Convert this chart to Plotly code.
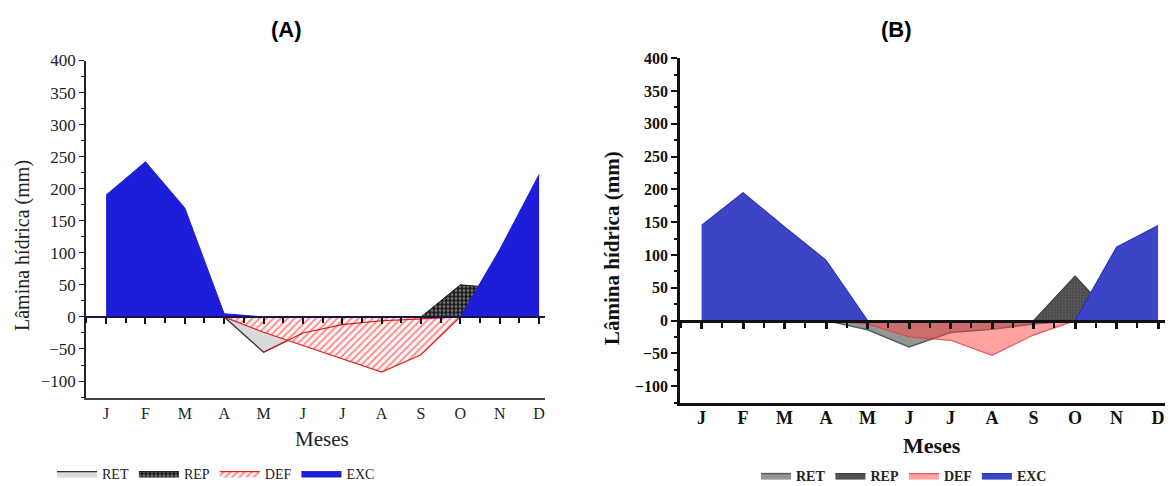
import plotly.graph_objects as go

# ---------------- data ----------------
months = ["J", "F", "M", "A", "M", "J", "J", "A", "S", "O", "N", "D"]
xs = list(range(12))

# Panel (A)
exc_a = [190, 242, 170, 5, 0, 0, 0, 0, 0, 0, 105, 222]
rep_a = [0, 0, 0, 0, 0, 0, 0, 0, 0, 50, 45, 0]
ret_a = [0, 0, 0, 0, -55, -25, -12, -6, -3, 0, 0, 0]
def_a = [0, 0, 0, 0, -24, -45, -66, -86, -59, 0, 0, 0]

# Panel (B)
exc_b = [145, 195, 143, 92, 0, 0, 0, 0, 0, 0, 112, 145]
rep_b = [0, 0, 0, 0, 0, 0, 0, 0, 0, 68, 0, 0]
ret_b = [0, 0, 0, 0, -14, -40, -18, -13, -5, 0, 0, 0]
def_b = [0, 0, 0, 0, -5, -25, -30, -53, -22, 0, 0, 0]

y_ticks = [-100, -50, 0, 50, 100, 150, 200, 250, 300, 350, 400]

# the page adds an 8px body margin; the figure is sized to fit the window
OFF = 8
W, H = 1173 - OFF, 486 - OFF
SERIF = "Liberation Serif"
SANS = "Liberation Sans"

def px_x(p):
    return (p - OFF) / W

def px_y(p):
    return (H - (p - OFF)) / H

fig = go.Figure()

# ---------- Panel A traces ----------
fig.add_trace(go.Scatter(x=xs, y=ret_a, mode="lines", fill="tozeroy", name="RET", legendrank=1,
                         fillcolor="#d9d9d9", line=dict(color="#333333", width=1.2),
                         xaxis="x", yaxis="y", legend="legend", hoverinfo="skip"))
fig.add_trace(go.Scatter(x=xs, y=def_a, mode="lines", fill="tozeroy", name="DEF", legendrank=3,
                         line=dict(color="#e52020", width=1.2),
                         fillpattern=dict(shape="/", fgcolor="#e52424", bgcolor="#fff4f4",
                                          size=5, solidity=0.35),
                         xaxis="x", yaxis="y", legend="legend", hoverinfo="skip"))
fig.add_trace(go.Scatter(x=xs[4:], y=ret_a[4:], mode="lines", showlegend=False,
                         line=dict(color="#d81818", width=1.2),
                         xaxis="x", yaxis="y", hoverinfo="skip"))
fig.add_trace(go.Scatter(x=xs, y=rep_a, mode="lines", fill="tozeroy", name="REP", legendrank=2,
                         line=dict(color="#111111", width=1),
                         fillpattern=dict(shape=".", fgcolor="#d8d8d8", bgcolor="#141414",
                                          size=4, solidity=0.45),
                         xaxis="x", yaxis="y", legend="legend", hoverinfo="skip"))
fig.add_trace(go.Scatter(x=xs, y=exc_a, mode="lines", fill="tozeroy", name="EXC", legendrank=4,
                         fillcolor="#1e1ed8", line=dict(color="#1e1ed8", width=1),
                         xaxis="x", yaxis="y", legend="legend", hoverinfo="skip"))
# carrier for the zero-line axis of A
fig.add_trace(go.Scatter(x=xs, y=[0] * 12, mode="lines", showlegend=False,
                         line=dict(width=0), xaxis="x3", yaxis="y", hoverinfo="skip"))

# ---------- Panel B traces ----------
fig.add_trace(go.Scatter(x=xs, y=ret_b, mode="lines", fill="tozeroy", name="RET", legendrank=1,
                         fillcolor="rgba(138,138,138,0.9)", line=dict(color="#4d5e5e", width=1.5),
                         xaxis="x2", yaxis="y2", legend="legend2", hoverinfo="skip"))
fig.add_trace(go.Scatter(x=xs, y=def_b, mode="lines", fill="tozeroy", name="DEF", legendrank=3,
                         fillcolor="rgba(255,70,70,0.5)", line=dict(color="rgba(225,60,60,0.8)", width=1.2),
                         xaxis="x2", yaxis="y2", legend="legend2", hoverinfo="skip"))
fig.add_trace(go.Scatter(x=xs, y=rep_b, mode="lines", fill="tozeroy", name="REP", legendrank=2,
                         line=dict(color="#3c3c3c", width=1.2),
                         fillpattern=dict(shape=".", fgcolor="#7a7a7a", bgcolor="#4a4a4a",
                                          size=3, solidity=0.4),
                         xaxis="x2", yaxis="y2", legend="legend2", hoverinfo="skip"))
fig.add_trace(go.Scatter(x=xs, y=exc_b, mode="lines", fill="tozeroy", name="EXC", legendrank=4,
                         fillcolor="#3d45c6", line=dict(color="#2a32c4", width=1.2),
                         xaxis="x2", yaxis="y2", legend="legend2", hoverinfo="skip"))
fig.add_trace(go.Scatter(x=xs, y=[0] * 12, mode="lines", showlegend=False,
                         line=dict(width=0), xaxis="x4", yaxis="y2", hoverinfo="skip"))

# ---------- axes ----------
xr_a = [-0.51, 11.15]
yr_a = [-126, 400]
xr_b = [-0.52, 11.36]
yr_b = [-125.6, 400]

dom_xa = [px_x(86), px_x(545)]
dom_ya = [px_y(397.7), px_y(60.5)]
dom_xb = [px_x(680), 1.0]
dom_yb = [px_y(403), px_y(58.3)]

fig.update_layout(
    width=W, height=H,
    margin=dict(l=0, r=0, t=0, b=0, autoexpand=False),
    font=dict(family=SERIF, color="#222222"),
    paper_bgcolor="white", plot_bgcolor="white",
    xaxis=dict(domain=dom_xa, anchor="y", range=xr_a, tickvals=xs, ticktext=months,
               ticks="", showline=True, linecolor="#444444", linewidth=2,
               showgrid=False, zeroline=False, fixedrange=True,
               tickfont=dict(family=SERIF, size=16, color="#222222")),
    yaxis=dict(domain=dom_ya, anchor="x", range=yr_a, tickvals=y_ticks,
               ticks="outside", ticklen=5, tickwidth=1, tickcolor="#222222",
               minor=dict(ticks="outside", ticklen=3, dtick=25, tick0=0, tickcolor="#222222"),
               showline=True, linecolor="#222222", linewidth=1.5,
               showgrid=False, zeroline=False, fixedrange=True,
               tickfont=dict(family=SERIF, size=17, color="#222222")),
    xaxis3=dict(overlaying="x", anchor="free", position=px_y(317), side="bottom",
                range=xr_a, tick0=0, dtick=1, ticks="outside", ticklen=6, tickwidth=1.5,
                tickcolor="#111111",
                minor=dict(ticks="outside", ticklen=5, dtick=0.5, tick0=0, tickcolor="#111111"),
                showticklabels=False, showline=True, linecolor="#16164a", linewidth=2,
                showgrid=False, zeroline=False, fixedrange=True),
    xaxis2=dict(domain=dom_xb, anchor="y2", range=xr_b, tickvals=xs, ticktext=months,
                ticks="", showline=True, linecolor="#111111", linewidth=2.5,
                showgrid=False, zeroline=False, fixedrange=True, ticklabelstandoff=-3,
                tickfont=dict(family=SERIF, size=18, color="#111111", weight="bold")),
    yaxis2=dict(domain=dom_yb, anchor="x2", range=yr_b, tickvals=y_ticks,
                ticks="outside", ticklen=6, tickwidth=2, tickcolor="#111111",
                minor=dict(ticks="outside", ticklen=3, dtick=25, tick0=0, tickcolor="#111111"),
                showline=True, linecolor="#111111", linewidth=2.5,
                showgrid=False, zeroline=False, fixedrange=True,
                tickfont=dict(family=SERIF, size=16, color="#111111", weight="bold")),
    xaxis4=dict(overlaying="x2", anchor="free", position=px_y(320.7), side="bottom",
                range=xr_b, tick0=0, dtick=1, ticks="outside", ticklen=7, tickwidth=2.5,
                tickcolor="#111111",
                minor=dict(ticks="outside", ticklen=6, dtick=0.5, tick0=0, tickwidth=2,
                           tickcolor="#111111"),
                showticklabels=False, showline=True, linecolor="#111111", linewidth=2.5,
                showgrid=False, zeroline=False, fixedrange=True),
    legend=dict(orientation="h", x=px_x(52), y=px_y(474), xanchor="left", yanchor="middle",
                font=dict(family=SERIF, size=14, color="#222222"), itemwidth=40,
                bgcolor="rgba(0,0,0,0)", tracegroupgap=0, itemclick=False),
    legend2=dict(orientation="h", x=px_x(756), y=px_y(476), xanchor="left", yanchor="middle",
                 font=dict(family=SERIF, size=14, color="#222222", weight="bold"), itemwidth=30,
                 bgcolor="rgba(0,0,0,0)", itemclick=False),
    showlegend=True,
)

annotations = [
    dict(text="<b>(A)</b>", x=px_x(286), y=px_y(30), font=dict(family=SANS, size=22, color="black")),
    dict(text="<b>(B)</b>", x=px_x(896), y=px_y(30), font=dict(family=SANS, size=22, color="black")),
    dict(text="Lâmina hídrica (mm)", x=px_x(22), y=px_y(246), textangle=-90,
         font=dict(family=SERIF, size=20, color="#222222")),
    dict(text="<b>Lâmina hídrica (mm)</b>", x=px_x(612), y=px_y(248), textangle=-90,
         font=dict(family=SERIF, size=21, color="#111111")),
    dict(text="Meses", x=px_x(322), y=px_y(439), font=dict(family=SERIF, size=21, color="#222222")),
    dict(text="<b>Meses</b>", x=px_x(932), y=px_y(445), font=dict(family=SERIF, size=22, color="#111111")),
]
for a in annotations:
    a.update(xref="paper", yref="paper", showarrow=False, xanchor="center", yanchor="middle")
fig.update_layout(annotations=annotations)

fig.write_html("out.html")
